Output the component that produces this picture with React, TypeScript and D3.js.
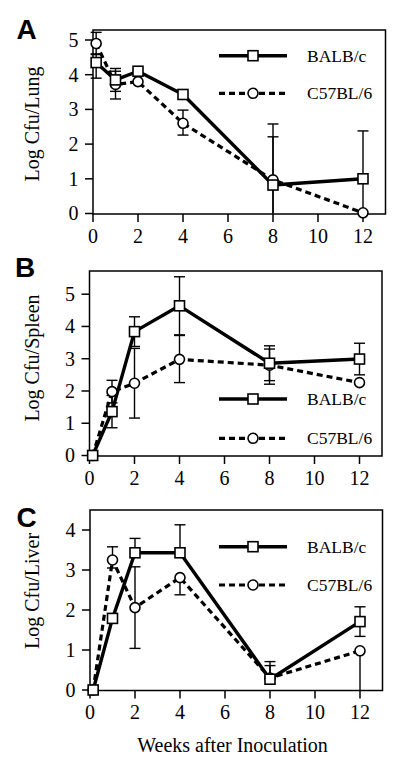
import React from "react";
import * as d3 from "d3";

// ---------- data ----------
const weeks = [0.14, 1, 2, 4, 8, 12];
const xTicks = [0, 2, 4, 6, 8, 10, 12];
const seriesNames = ["BALB/c", "C57BL/6"];

// Panel A: lung
const lungBalb = [4.35, 3.85, 4.1, 3.43, 0.82, 1.0];
const lungBalbHi = [4.6, 4.18, null, null, 2.58, 2.38];
const lungBalbLo = [3.9, 3.52, null, null, 0, 0];
const lungC57 = [4.9, 3.72, 3.8, 2.6, 0.97, 0.02];
const lungC57Hi = [5.22, 4.1, null, 2.98, 2.21, null];
const lungC57Lo = [4.58, 3.3, null, 2.26, 0, null];

// Panel B: spleen
const spleenBalb = [0, 1.36, 3.84, 4.64, 2.86, 2.99];
const spleenBalbHi = [null, 1.86, 4.3, 5.54, 3.4, 3.48];
const spleenBalbLo = [null, 0.86, 3.38, 3.74, 2.32, 2.5];
const spleenC57 = [0, 1.98, 2.24, 2.98, 2.8, 2.26];
const spleenC57Hi = [null, 2.33, 3.32, 3.72, 3.3, null];
const spleenC57Lo = [null, 1.63, 1.16, 2.26, 2.21, null];

// Panel C: liver
const liverBalb = [0, 1.79, 3.43, 3.43, 0.27, 1.71];
const liverBalbHi = [null, null, 3.79, 4.13, 0.71, 2.08];
const liverBalbLo = [null, null, null, null, null, 1.34];
const liverC57 = [0, 3.25, 2.06, 2.81, 0.3, 0.98];
const liverC57Hi = [null, 3.58, 3.08, null, 0.61, null];
const liverC57Lo = [null, 3.05, 1.04, 2.38, null, 0];

const lungTicks = [0, 1, 2, 3, 4, 5];
const spleenTicks = [0, 1, 2, 3, 4, 5];
const liverTicks = [0, 1, 2, 3, 4];

const panels = [
  {
    letter: "A", title: "Log Cfu/Lung", yTicks: lungTicks, yTickTop: 5,
    balb: lungBalb, balbHi: lungBalbHi, balbLo: lungBalbLo,
    c57: lungC57, c57Hi: lungC57Hi, c57Lo: lungC57Lo,
    x0: 93, boxTop: 30, boxBottom: 214, yZero: 213.5, yTopPx: 40,
    titleY: 124, letterX: 16.5, letterY: 38.5, legY: [55.7, 93.3],
  },
  {
    letter: "B", title: "Log Cfu/Spleen", yTicks: spleenTicks, yTickTop: 5,
    balb: spleenBalb, balbHi: spleenBalbHi, balbLo: spleenBalbLo,
    c57: spleenC57, c57Hi: spleenC57Hi, c57Lo: spleenC57Lo,
    x0: 89.5, boxTop: 271, boxBottom: 456, yZero: 455.5, yTopPx: 294.2,
    titleY: 358, letterX: 15, letterY: 276.7, legY: [399, 438.3],
  },
  {
    letter: "C", title: "Log Cfu/Liver", yTicks: liverTicks, yTickTop: 4,
    balb: liverBalb, balbHi: liverBalbHi, balbLo: liverBalbLo,
    c57: liverC57, c57Hi: liverC57Hi, c57Lo: liverC57Lo,
    x0: 90, boxTop: 510, boxBottom: 690.5, yZero: 690, yTopPx: 530,
    titleY: 591, letterX: 16.5, letterY: 526.7, legY: [546.7, 585],
  },
];

const SERIF = "'Liberation Serif', 'Times New Roman', serif";
const SANS = "'Liberation Sans', Arial, sans-serif";
const WEEK_PX = 22.5;

function Square({ cx, cy }: { cx: number; cy: number }) {
  const s = 10;
  return <rect x={cx - s / 2} y={cy - s / 2} width={s} height={s} fill="#fff" stroke="#000" strokeWidth={1.6} />;
}
function Circle({ cx, cy }: { cx: number; cy: number }) {
  return <circle cx={cx} cy={cy} r={5} fill="#fff" stroke="#000" strokeWidth={1.6} />;
}

function ErrorBars({ x, y, vals, hi, lo }: any) {
  const cap = 5.5;
  return (
    <g stroke="#000" strokeWidth={1.4}>
      {weeks.map((w, i) => {
        const parts: any[] = [];
        const cx = x(w);
        if (hi[i] != null) {
          parts.push(<line key={"h" + i} x1={cx} x2={cx} y1={y(vals[i])} y2={y(hi[i])} />);
          parts.push(<line key={"hc" + i} x1={cx - cap} x2={cx + cap} y1={y(hi[i])} y2={y(hi[i])} />);
        }
        if (lo[i] != null) {
          parts.push(<line key={"l" + i} x1={cx} x2={cx} y1={y(vals[i])} y2={y(lo[i])} />);
          if (lo[i] > 0)
            parts.push(<line key={"lc" + i} x1={cx - cap} x2={cx + cap} y1={y(lo[i])} y2={y(lo[i])} />);
        }
        return <g key={i}>{parts}</g>;
      })}
    </g>
  );
}

function Panel({ p }: { p: any }) {
  const x = d3.scaleLinear().domain([0, 13]).range([p.x0, p.x0 + 13 * WEEK_PX]);
  const y = d3.scaleLinear().domain([0, p.yTickTop]).range([p.yZero, p.yTopPx]);
  const line = d3.line<number>().x((_, i) => x(weeks[i])).y((d) => y(d));
  const right = x(13);
  return (
    <g>
      <text x={p.letterX} y={p.letterY} fontFamily={SANS} fontWeight="bold" fontSize={28}>{p.letter}</text>
      <text transform={`translate(38.5,${p.titleY}) rotate(-90)`} textAnchor="middle" fontFamily={SERIF} fontSize={20}>{p.title}</text>
      <rect x={p.x0} y={p.boxTop} width={right - p.x0} height={p.boxBottom - p.boxTop} fill="none" stroke="#000" strokeWidth={1.5} />
      {p.yTicks.map((t: number) => (
        <g key={"y" + t}>
          <line x1={p.x0 - 8} x2={p.x0} y1={y(t)} y2={y(t)} stroke="#000" strokeWidth={1.5} />
          <text x={p.x0 - 14.5} y={y(t)} dy="0.34em" textAnchor="end" fontFamily={SERIF} fontSize={20}>{t}</text>
        </g>
      ))}
      {xTicks.map((t) => (
        <g key={"x" + t}>
          <line x1={x(t)} x2={x(t)} y1={p.boxBottom} y2={p.boxBottom + 8} stroke="#000" strokeWidth={1.5} />
          <text x={x(t)} y={p.boxBottom + 28.5} textAnchor="middle" fontFamily={SERIF} fontSize={20}>{t}</text>
        </g>
      ))}
      <ErrorBars x={x} y={y} vals={p.c57} hi={p.c57Hi} lo={p.c57Lo} />
      <ErrorBars x={x} y={y} vals={p.balb} hi={p.balbHi} lo={p.balbLo} />
      <path d={line(p.c57) || ""} fill="none" stroke="#000" strokeWidth={3.2} strokeDasharray="6,4" />
      <path d={line(p.balb) || ""} fill="none" stroke="#000" strokeWidth={3.4} strokeLinejoin="round" />
      {p.c57.map((v: number, i: number) => <Circle key={"c" + i} cx={x(weeks[i])} cy={y(v)} />)}
      {p.balb.map((v: number, i: number) => <Square key={"s" + i} cx={x(weeks[i])} cy={y(v)} />)}
      <line x1={219} x2={287} y1={p.legY[0]} y2={p.legY[0]} stroke="#000" strokeWidth={3.4} />
      <Square cx={253} cy={p.legY[0]} />
      <text x={307} y={p.legY[0] + 6} fontFamily={SERIF} fontSize={17.5}>{seriesNames[0]}</text>
      <line x1={219} x2={287} y1={p.legY[1]} y2={p.legY[1]} stroke="#000" strokeWidth={3.2} strokeDasharray="6,4" />
      <Circle cx={253} cy={p.legY[1]} />
      <text x={307} y={p.legY[1] + 6} fontFamily={SERIF} fontSize={17.5}>{seriesNames[1]}</text>
    </g>
  );
}

export default function App() {
  return (
    <svg width={400} height={760} style={{ position: "absolute", left: 0, top: 0, background: "#fff" }}>
      <rect width={400} height={760} fill="#fff" />
      {panels.map((p) => <Panel key={p.letter} p={p} />)}
      <text x={232.5} y={751.5} textAnchor="middle" fontFamily={SERIF} fontSize={20}>Weeks after Inoculation</text>
    </svg>
  );
}
